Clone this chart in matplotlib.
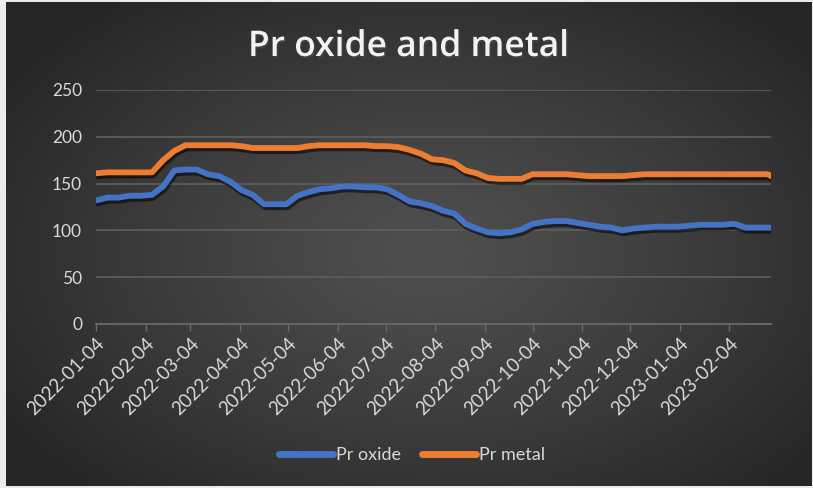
import numpy as np
import pandas as pd
import matplotlib
matplotlib.use("Agg")
import matplotlib.pyplot as plt
import matplotlib.dates as mdates
import matplotlib.patheffects as pe

# Weekly price samples (USD/kg), Jan 2022 - Mar 2023
dates = list(pd.date_range("2022-01-04", "2023-02-28", freq="7D")) + [pd.Timestamp("2023-03-02")]
pr_oxide = [132, 135, 135, 137, 137, 138, 147, 164, 165, 165, 160, 158, 152, 143, 138, 128,
            128, 128, 137, 141, 144, 145, 147, 147, 146, 146, 144, 138, 131, 129, 126, 121,
            118, 107, 102, 98, 97, 98, 101, 107, 109, 110, 110, 108, 106, 104, 103, 100,
            102, 103, 104, 104, 104, 105, 106, 106, 106, 107, 103, 103, 103, 103]
pr_metal = [161, 162, 162, 162, 162, 162, 175, 185, 191, 191, 191, 191, 191, 190, 188, 188,
            188, 188, 188, 190, 191, 191, 191, 191, 191, 190, 190, 189, 186, 182, 176, 175,
            172, 164, 161, 156, 155, 155, 155, 160, 160, 160, 160, 159, 158, 158, 158, 158,
            159, 160, 160, 160, 160, 160, 160, 160, 160, 160, 160, 160, 160, 158]
month_ticks = list(pd.date_range("2022-01-01", "2023-02-01", freq="MS") + pd.Timedelta(days=3))
y_ticks = [0, 50, 100, 150, 200, 250]

W, H = 813, 488
fig = plt.figure(figsize=(W / 100, H / 100), dpi=100, facecolor="#ececec")
plt.rcParams["font.family"] = ["Lato", "DejaVu Sans"]

# dark radial-gradient chart background
bg = fig.add_axes([6 / W, 2 / H, 805 / W, 484 / H])
yy, xx = np.mgrid[0:484, 0:805]
cx, cy = 420, 250
r = np.sqrt(((xx - cx) / 500.0) ** 2 + ((yy - cy) / 320.0) ** 2)
r = np.clip(r, 0, 1)
light, dark = 0.31, 0.15
shade = light - (light - dark) * r ** 1.2
bg.imshow(np.dstack([shade] * 3), aspect="auto", interpolation="bilinear")
bg.set_axis_off()

ax = fig.add_axes([96 / W, (H - 324) / H, (771 - 96) / W, (324 - 90) / H])
ax.set_facecolor("none")

shadow = [pe.SimpleLineShadow(offset=(0.8, -2.2), shadow_color="black", alpha=0.55), pe.Normal()]
ax.plot(dates, pr_oxide, color="#4472C4", lw=4.2, solid_capstyle="round",
        solid_joinstyle="round", label="Pr oxide", path_effects=shadow, zorder=3)
ax.plot(dates, pr_metal, color="#ED7D31", lw=4.2, solid_capstyle="round",
        solid_joinstyle="round", label="Pr metal", path_effects=shadow, zorder=3)

ax.set_xlim(pd.Timestamp("2022-01-04"), pd.Timestamp("2023-03-02"))
ax.set_ylim(0, 250)
ax.set_yticks(y_ticks)
ax.set_xticks(month_ticks)
ax.xaxis.set_major_formatter(mdates.DateFormatter("%Y-%m-%d"))

for s in ["top", "right", "left"]:
    ax.spines[s].set_visible(False)
ax.spines["bottom"].set_color("#6b6b6b")
ax.spines["bottom"].set_linewidth(1.2)
ax.grid(axis="y", color="#5c5c5c", lw=1.3)
ax.set_axisbelow(True)

ax.tick_params(axis="y", length=0, pad=10, labelsize=12.5, labelcolor="#d9d9d9")
ax.tick_params(axis="x", length=5, width=1.0, color="#6b6b6b", direction="out",
               pad=3, labelsize=13.5, labelcolor="#d9d9d9")
for lbl in ax.get_xticklabels():
    lbl.set_rotation(45)
    lbl.set_ha("right")
    lbl.set_rotation_mode("anchor")

fig.text(408 / W, 1 - 47 / H, "Pr oxide and metal", ha="center", va="center",
         fontsize=25.5, fontweight="semibold", color="#f2f2f2",
         family=["Open Sans", "DejaVu Sans"],
         path_effects=[pe.SimplePatchShadow(offset=(1, -1.5), alpha=0.6), pe.Normal()])

leg = fig.legend(loc="center", bbox_to_anchor=(412 / W, 1 - 455 / H), ncol=2,
                 frameon=False, fontsize=13, labelcolor="#d9d9d9",
                 handlelength=3.0, handletextpad=0.15, columnspacing=1.2)
for h in leg.legend_handles:
    h.set_path_effects([pe.Normal()])
    h.set_linewidth(5)

fig.savefig("out.png", dpi=100, facecolor=fig.get_facecolor())
